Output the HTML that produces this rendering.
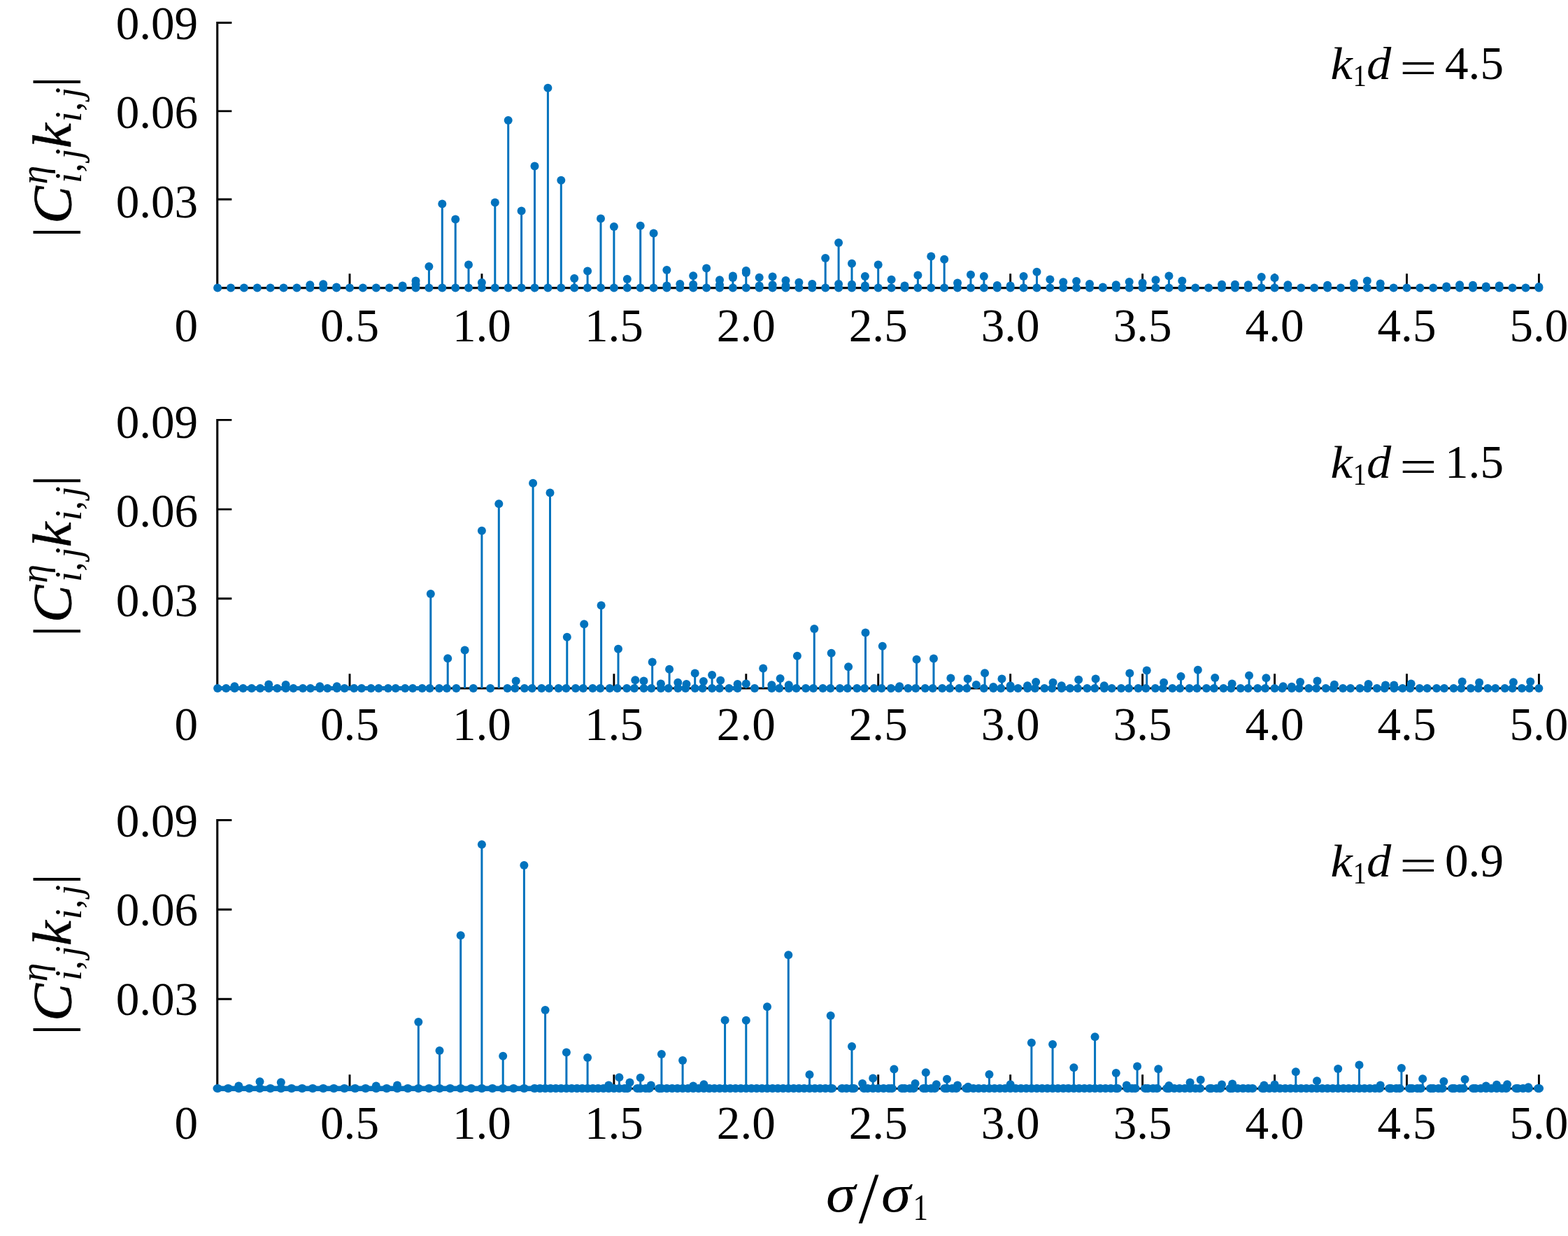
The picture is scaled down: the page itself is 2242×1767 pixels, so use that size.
<!DOCTYPE html>
<html lang="en">
<head>
<meta charset="utf-8">
<title>Interaction amplitude spectra</title>
<style>
html,body{margin:0;padding:0;background:#fff;}
body{width:2242px;height:1767px;overflow:hidden;}
svg{display:block;}
text{font-family:"Liberation Serif","DejaVu Serif",serif;fill:#000;}
.t{font-size:67.2px;}
.it{font-style:italic;}
</style>
</head>
<body>
<svg width="2242" height="1767" viewBox="0 0 2242 1767">
<rect x="0" y="0" width="2242" height="1767" fill="#fff"/>
<g id="panel1">
<path d="M310.75 31V411.65H2200.42" fill="none" stroke="#000" stroke-width="3.1" stroke-linejoin="miter"/>
<path d="M310.75 285h20.6M310.75 158.9h20.6M310.75 32.45h20.6M500 411.65V391.3M688.94 411.65V391.3M1444.68 411.65V391.3M1633.62 411.65V391.3M1822.55 411.65V391.3M2011.48 411.65V391.3M2200.42 411.65V391.3" fill="none" stroke="#000" stroke-width="2.9"/>
<path d="M443.3 411.6V407.2M462.2 411.6V406.3M481.1 411.6V410.6M575.6 411.6V408.4M594.5 411.6V401.4M594.5 411.6V406.6M613.4 411.6V380.9M632.3 411.6V291.4M651.2 411.6V313.5M670 411.6V378.4M688.9 411.6V404M707.8 411.6V289.5M726.7 411.6V171.9M745.6 411.6V301.5M764.5 411.6V237.4M783.4 411.6V125.8M802.3 411.6V257.8M821.2 411.6V398M840.1 411.6V387.4M859 411.6V312.6M877.9 411.6V323.9M896.8 411.6V398.9M915.7 411.6V322.8M934.6 411.6V333.6M953.4 411.6V386M953.4 411.6V408.6M972.3 411.6V406.1M991.2 411.6V394.3M991.2 411.6V406.8M1010.1 411.6V383.5M1029 411.6V400.3M1029 411.6V407.2M1047.9 411.6V394.5M1047.9 411.6V397.1M1066.8 411.6V387.1M1066.8 411.6V389.9M1085.7 411.6V396.8M1085.7 411.6V408.4M1104.6 411.6V395.4M1104.6 411.6V407.2M1123.5 411.6V401M1123.5 411.6V408.4M1142.4 411.6V403.8M1161.3 411.6V406.1M1180.2 411.6V368.9M1199.1 411.6V347M1199.1 411.6V406.1M1218 411.6V376.8M1218 411.6V406.8M1236.9 411.6V395M1236.9 411.6V408.6M1255.7 411.6V378.4M1274.6 411.6V399.8M1293.5 411.6V408.6M1312.4 411.6V393.6M1331.3 411.6V366.4M1350.2 411.6V370.8M1369.1 411.6V404.4M1388 411.6V392.8M1406.9 411.6V395M1425.8 411.6V407.9M1444.7 411.6V408.6M1463.6 411.6V395M1482.5 411.6V388.8M1501.4 411.6V399.6M1520.3 411.6V403.3M1539.1 411.6V401.9M1558 411.6V406.1M1576.9 411.6V410.6M1595.8 411.6V407.2M1614.7 411.6V403.1M1633.6 411.6V404.4M1652.5 411.6V400.3M1671.4 411.6V394.5M1690.3 411.6V401.4M1747 411.6V406.8M1765.9 411.6V406.8M1784.8 411.6V407.2M1803.7 411.6V395.9M1822.5 411.6V397.3M1841.4 411.6V407.2M1898.1 411.6V407.8M1935.9 411.6V404.9M1954.8 411.6V401.4M1973.7 411.6V405.6M2068.2 411.6V409.6M2087.1 411.6V407.2M2106 411.6V407.8M2124.8 411.6V409.6M2143.7 411.6V408.6M2200.4 411.6V410.1" fill="none" stroke="#0072BD" stroke-width="3.0"/>
<g fill="#0072BD">
<circle cx="311.1" cy="411.6" r="6.0"/><circle cx="330" cy="411.6" r="6.0"/><circle cx="348.9" cy="411.6" r="6.0"/><circle cx="367.8" cy="411.6" r="6.0"/><circle cx="386.6" cy="411.6" r="6.0"/><circle cx="405.5" cy="411.6" r="6.0"/>
<circle cx="424.4" cy="411.6" r="6.0"/><circle cx="443.3" cy="411.6" r="6.0"/><circle cx="443.3" cy="407.2" r="6.0"/><circle cx="462.2" cy="411.6" r="6.0"/><circle cx="462.2" cy="406.3" r="6.0"/><circle cx="481.1" cy="411.6" r="6.0"/>
<circle cx="481.1" cy="410.6" r="6.0"/><circle cx="500" cy="411.6" r="6.0"/><circle cx="518.9" cy="411.6" r="6.0"/><circle cx="537.8" cy="411.6" r="6.0"/><circle cx="556.7" cy="411.6" r="6.0"/><circle cx="575.6" cy="411.6" r="6.0"/>
<circle cx="575.6" cy="408.4" r="6.0"/><circle cx="594.5" cy="411.6" r="6.0"/><circle cx="594.5" cy="401.4" r="6.0"/><circle cx="594.5" cy="406.6" r="6.0"/><circle cx="613.4" cy="411.6" r="6.0"/><circle cx="613.4" cy="380.9" r="6.0"/>
<circle cx="632.3" cy="411.6" r="6.0"/><circle cx="632.3" cy="291.4" r="6.0"/><circle cx="651.2" cy="411.6" r="6.0"/><circle cx="651.2" cy="313.5" r="6.0"/><circle cx="670" cy="411.6" r="6.0"/><circle cx="670" cy="378.4" r="6.0"/>
<circle cx="688.9" cy="411.6" r="6.0"/><circle cx="688.9" cy="404" r="6.0"/><circle cx="707.8" cy="411.6" r="6.0"/><circle cx="707.8" cy="289.5" r="6.0"/><circle cx="726.7" cy="411.6" r="6.0"/><circle cx="726.7" cy="171.9" r="6.0"/>
<circle cx="745.6" cy="411.6" r="6.0"/><circle cx="745.6" cy="301.5" r="6.0"/><circle cx="764.5" cy="411.6" r="6.0"/><circle cx="764.5" cy="237.4" r="6.0"/><circle cx="783.4" cy="411.6" r="6.0"/><circle cx="783.4" cy="125.8" r="6.0"/>
<circle cx="802.3" cy="411.6" r="6.0"/><circle cx="802.3" cy="257.8" r="6.0"/><circle cx="821.2" cy="411.6" r="6.0"/><circle cx="821.2" cy="398" r="6.0"/><circle cx="840.1" cy="411.6" r="6.0"/><circle cx="840.1" cy="387.4" r="6.0"/>
<circle cx="859" cy="411.6" r="6.0"/><circle cx="859" cy="312.6" r="6.0"/><circle cx="877.9" cy="411.6" r="6.0"/><circle cx="877.9" cy="323.9" r="6.0"/><circle cx="896.8" cy="411.6" r="6.0"/><circle cx="896.8" cy="398.9" r="6.0"/>
<circle cx="915.7" cy="411.6" r="6.0"/><circle cx="915.7" cy="322.8" r="6.0"/><circle cx="934.6" cy="411.6" r="6.0"/><circle cx="934.6" cy="333.6" r="6.0"/><circle cx="953.4" cy="411.6" r="6.0"/><circle cx="953.4" cy="386" r="6.0"/>
<circle cx="953.4" cy="408.6" r="6.0"/><circle cx="972.3" cy="411.6" r="6.0"/><circle cx="972.3" cy="406.1" r="6.0"/><circle cx="991.2" cy="411.6" r="6.0"/><circle cx="991.2" cy="394.3" r="6.0"/><circle cx="991.2" cy="406.8" r="6.0"/>
<circle cx="1010.1" cy="411.6" r="6.0"/><circle cx="1010.1" cy="383.5" r="6.0"/><circle cx="1029" cy="411.6" r="6.0"/><circle cx="1029" cy="400.3" r="6.0"/><circle cx="1029" cy="407.2" r="6.0"/><circle cx="1047.9" cy="411.6" r="6.0"/>
<circle cx="1047.9" cy="394.5" r="6.0"/><circle cx="1047.9" cy="397.1" r="6.0"/><circle cx="1066.8" cy="411.6" r="6.0"/><circle cx="1066.8" cy="387.1" r="6.0"/><circle cx="1066.8" cy="389.9" r="6.0"/><circle cx="1085.7" cy="411.6" r="6.0"/>
<circle cx="1085.7" cy="396.8" r="6.0"/><circle cx="1085.7" cy="408.4" r="6.0"/><circle cx="1104.6" cy="411.6" r="6.0"/><circle cx="1104.6" cy="395.4" r="6.0"/><circle cx="1104.6" cy="407.2" r="6.0"/><circle cx="1123.5" cy="411.6" r="6.0"/>
<circle cx="1123.5" cy="401" r="6.0"/><circle cx="1123.5" cy="408.4" r="6.0"/><circle cx="1142.4" cy="411.6" r="6.0"/><circle cx="1142.4" cy="403.8" r="6.0"/><circle cx="1161.3" cy="411.6" r="6.0"/><circle cx="1161.3" cy="406.1" r="6.0"/>
<circle cx="1180.2" cy="411.6" r="6.0"/><circle cx="1180.2" cy="368.9" r="6.0"/><circle cx="1199.1" cy="411.6" r="6.0"/><circle cx="1199.1" cy="347" r="6.0"/><circle cx="1199.1" cy="406.1" r="6.0"/><circle cx="1218" cy="411.6" r="6.0"/>
<circle cx="1218" cy="376.8" r="6.0"/><circle cx="1218" cy="406.8" r="6.0"/><circle cx="1236.9" cy="411.6" r="6.0"/><circle cx="1236.9" cy="395" r="6.0"/><circle cx="1236.9" cy="408.6" r="6.0"/><circle cx="1255.7" cy="411.6" r="6.0"/>
<circle cx="1255.7" cy="378.4" r="6.0"/><circle cx="1274.6" cy="411.6" r="6.0"/><circle cx="1274.6" cy="399.8" r="6.0"/><circle cx="1293.5" cy="411.6" r="6.0"/><circle cx="1293.5" cy="408.6" r="6.0"/><circle cx="1312.4" cy="411.6" r="6.0"/>
<circle cx="1312.4" cy="393.6" r="6.0"/><circle cx="1331.3" cy="411.6" r="6.0"/><circle cx="1331.3" cy="366.4" r="6.0"/><circle cx="1350.2" cy="411.6" r="6.0"/><circle cx="1350.2" cy="370.8" r="6.0"/><circle cx="1369.1" cy="411.6" r="6.0"/>
<circle cx="1369.1" cy="404.4" r="6.0"/><circle cx="1388" cy="411.6" r="6.0"/><circle cx="1388" cy="392.8" r="6.0"/><circle cx="1406.9" cy="411.6" r="6.0"/><circle cx="1406.9" cy="395" r="6.0"/><circle cx="1425.8" cy="411.6" r="6.0"/>
<circle cx="1425.8" cy="407.9" r="6.0"/><circle cx="1444.7" cy="411.6" r="6.0"/><circle cx="1444.7" cy="408.6" r="6.0"/><circle cx="1463.6" cy="411.6" r="6.0"/><circle cx="1463.6" cy="395" r="6.0"/><circle cx="1482.5" cy="411.6" r="6.0"/>
<circle cx="1482.5" cy="388.8" r="6.0"/><circle cx="1501.4" cy="411.6" r="6.0"/><circle cx="1501.4" cy="399.6" r="6.0"/><circle cx="1520.3" cy="411.6" r="6.0"/><circle cx="1520.3" cy="403.3" r="6.0"/><circle cx="1539.1" cy="411.6" r="6.0"/>
<circle cx="1539.1" cy="401.9" r="6.0"/><circle cx="1558" cy="411.6" r="6.0"/><circle cx="1558" cy="406.1" r="6.0"/><circle cx="1576.9" cy="411.6" r="6.0"/><circle cx="1576.9" cy="410.6" r="6.0"/><circle cx="1595.8" cy="411.6" r="6.0"/>
<circle cx="1595.8" cy="407.2" r="6.0"/><circle cx="1614.7" cy="411.6" r="6.0"/><circle cx="1614.7" cy="403.1" r="6.0"/><circle cx="1633.6" cy="411.6" r="6.0"/><circle cx="1633.6" cy="404.4" r="6.0"/><circle cx="1652.5" cy="411.6" r="6.0"/>
<circle cx="1652.5" cy="400.3" r="6.0"/><circle cx="1671.4" cy="411.6" r="6.0"/><circle cx="1671.4" cy="394.5" r="6.0"/><circle cx="1690.3" cy="411.6" r="6.0"/><circle cx="1690.3" cy="401.4" r="6.0"/><circle cx="1709.2" cy="411.6" r="6.0"/>
<circle cx="1728.1" cy="411.6" r="6.0"/><circle cx="1747" cy="411.6" r="6.0"/><circle cx="1747" cy="406.8" r="6.0"/><circle cx="1765.9" cy="411.6" r="6.0"/><circle cx="1765.9" cy="406.8" r="6.0"/><circle cx="1784.8" cy="411.6" r="6.0"/>
<circle cx="1784.8" cy="407.2" r="6.0"/><circle cx="1803.7" cy="411.6" r="6.0"/><circle cx="1803.7" cy="395.9" r="6.0"/><circle cx="1822.5" cy="411.6" r="6.0"/><circle cx="1822.5" cy="397.3" r="6.0"/><circle cx="1841.4" cy="411.6" r="6.0"/>
<circle cx="1841.4" cy="407.2" r="6.0"/><circle cx="1860.3" cy="411.6" r="6.0"/><circle cx="1879.2" cy="411.6" r="6.0"/><circle cx="1898.1" cy="411.6" r="6.0"/><circle cx="1898.1" cy="407.8" r="6.0"/><circle cx="1917" cy="411.6" r="6.0"/>
<circle cx="1935.9" cy="411.6" r="6.0"/><circle cx="1935.9" cy="404.9" r="6.0"/><circle cx="1954.8" cy="411.6" r="6.0"/><circle cx="1954.8" cy="401.4" r="6.0"/><circle cx="1973.7" cy="411.6" r="6.0"/><circle cx="1973.7" cy="405.6" r="6.0"/>
<circle cx="1992.6" cy="411.6" r="6.0"/><circle cx="2011.5" cy="411.6" r="6.0"/><circle cx="2030.4" cy="411.6" r="6.0"/><circle cx="2049.3" cy="411.6" r="6.0"/><circle cx="2068.2" cy="411.6" r="6.0"/><circle cx="2068.2" cy="409.6" r="6.0"/>
<circle cx="2087.1" cy="411.6" r="6.0"/><circle cx="2087.1" cy="407.2" r="6.0"/><circle cx="2106" cy="411.6" r="6.0"/><circle cx="2106" cy="407.8" r="6.0"/><circle cx="2124.8" cy="411.6" r="6.0"/><circle cx="2124.8" cy="409.6" r="6.0"/>
<circle cx="2143.7" cy="411.6" r="6.0"/><circle cx="2143.7" cy="408.6" r="6.0"/><circle cx="2162.6" cy="411.6" r="6.0"/><circle cx="2181.5" cy="411.6" r="6.0"/><circle cx="2200.4" cy="411.6" r="6.0"/><circle cx="2200.4" cy="410.1" r="6.0"/>
</g>
</g>
<g id="panel2">
<path d="M310.75 598.95V984H2200.42" fill="none" stroke="#000" stroke-width="3.1" stroke-linejoin="miter"/>
<path d="M310.75 855.7h20.6M310.75 728.1h20.6M310.75 600.4h20.6M500 984V963.2M877.88 984V963.2M1066.81 984V963.2M1255.74 984V963.2M1444.68 984V963.2M1633.62 984V963.2M1822.55 984V963.2M2011.48 984V963.2M2200.42 984V963.2" fill="none" stroke="#000" stroke-width="2.9"/>
<path d="M335.4 984V981.3M384.2 984V978.5M408.6 984V979.1M457.3 984V981.3M481.7 984V981.3M615.8 984V849M640.2 984V941.3M664.6 984V929.5M688.9 984V758.8M713.3 984V720.3M737.7 984V973.4M762.1 984V690.7M786.5 984V704.6M810.8 984V910.8M835.2 984V892.2M859.6 984V865.6M884 984V927.7M908.3 984V972.2M920.5 984V973.4M932.7 984V946.4M944.9 984V977.5M957.1 984V956.8M969.3 984V975.7M981.5 984V978M993.7 984V962.5M1005.9 984V974.1M1018.1 984V965.1M1030.2 984V972.7M1054.6 984V978M1066.8 984V977.5M1091.2 984V955.6M1103.4 984V979.3M1115.6 984V970.1M1127.8 984V979.3M1139.9 984V937.8M1164.3 984V898.9M1188.7 984V933.7M1213.1 984V953.3M1237.5 984V904.6M1261.8 984V923.8M1286.2 984V981.3M1310.6 984V942.7M1335 984V941.5M1359.4 984V969.5M1383.7 984V970.6M1395.9 984V979.1M1408.1 984V962.3M1420.3 984V981.9M1432.5 984V970.6M1444.7 984V980.3M1469.1 984V980.3M1481.2 984V975M1505.6 984V975.7M1517.8 984V980.3M1542.2 984V971.8M1566.6 984V970.6M1578.8 984V980.3M1615.3 984V962.5M1639.7 984V958.4M1664.1 984V975.7M1688.5 984V967.1M1712.8 984V957.7M1737.2 984V969M1761.6 984V977.5M1786 984V965.8M1810.4 984V969.2M1834.7 984V981.3M1846.9 984V981.8M1859.1 984V975M1883.5 984V973.4M1907.9 984V978.7M1956.6 984V978M1981 984V979.6M1993.2 984V979.6M2017.6 984V977.5M2090.7 984V974.5M2115.1 984V975.7M2163.9 984V975.2M2188.2 984V974.5" fill="none" stroke="#0072BD" stroke-width="3.0"/>
<path d="M311.1 984H323.3M323.3 984H335.4M335.4 984H347.6M347.6 984H359.8M359.8 984H372M372 984H384.2M384.2 984H396.4M396.4 984H408.6M408.6 984H419.5M419.5 984H433M433 984H443.9M443.9 984H457.3M457.3 984H468.2M468.2 984H481.7M481.7 984H492.6M492.6 984H506.1M506.1 984H517M517 984H530.5M530.5 984H541.4M541.4 984H554.9M554.9 984H565.7M565.7 984H579.2M579.2 984H590.1M590.1 984H603.6M603.6 984H614.5M628 984H638.9M725.5 984H736.4M749.9 984H760.8M774.3 984H785.2M798.6 984H809.5M823 984H833.9M847.4 984H858.3M871.8 984H882.7M896.2 984H907M920.5 984H931.4M944.9 984H955.8M969.3 984H980.2M993.7 984H1004.6M1018.1 984H1028.9M1042.4 984H1054.6M1103.4 984H1114.3M1127.8 984H1138.6M1152.1 984H1163M1176.5 984H1187.4M1200.9 984H1211.8M1225.3 984H1236.2M1249.7 984H1260.5M1274 984H1284.9M1298.4 984H1309.3M1322.8 984H1333.7M1347.2 984H1358.1M1371.5 984H1382.4M1420.3 984H1431.2M1444.7 984H1455.6M1469.1 984H1479.9M1493.4 984H1504.3M1517.8 984H1530M1530 984H1540.9M1554.4 984H1565.3M1578.8 984H1589.7M1603.1 984H1614M1627.5 984H1638.4M1651.9 984H1662.8M1676.3 984H1687.2M1700.7 984H1711.5M1725 984H1735.9M1749.4 984H1760.3M1773.8 984H1784.7M1798.2 984H1809.1M1822.5 984H1833.4M1846.9 984H1857.8M1871.3 984H1882.2M1895.7 984H1906.6M1920.1 984H1931M1944.4 984H1955.3M1968.8 984H1979.7M1993.2 984H2005.4M2005.4 984H2016.3M2029.8 984H2040.7M2054.1 984H2065M2078.5 984H2089.4M2102.9 984H2113.8M2127.3 984H2138.2M2151.7 984H2162.6M2176 984H2186.9" fill="none" stroke="#0072BD" stroke-width="6"/>
<g fill="#0072BD">
<circle cx="311.1" cy="984" r="6.0"/><circle cx="323.3" cy="984" r="6.0"/><circle cx="335.4" cy="984" r="6.0"/><circle cx="335.4" cy="981.3" r="6.0"/><circle cx="347.6" cy="984" r="6.0"/><circle cx="359.8" cy="984" r="6.0"/>
<circle cx="372" cy="984" r="6.0"/><circle cx="384.2" cy="984" r="6.0"/><circle cx="384.2" cy="978.5" r="6.0"/><circle cx="396.4" cy="984" r="6.0"/><circle cx="408.6" cy="984" r="6.0"/><circle cx="408.6" cy="979.1" r="6.0"/>
<circle cx="419.5" cy="984" r="6.0"/><circle cx="433" cy="984" r="6.0"/><circle cx="443.9" cy="984" r="6.0"/><circle cx="457.3" cy="984" r="6.0"/><circle cx="457.3" cy="981.3" r="6.0"/><circle cx="468.2" cy="984" r="6.0"/>
<circle cx="481.7" cy="984" r="6.0"/><circle cx="481.7" cy="981.3" r="6.0"/><circle cx="492.6" cy="984" r="6.0"/><circle cx="506.1" cy="984" r="6.0"/><circle cx="517" cy="984" r="6.0"/><circle cx="530.5" cy="984" r="6.0"/>
<circle cx="541.4" cy="984" r="6.0"/><circle cx="554.9" cy="984" r="6.0"/><circle cx="565.7" cy="984" r="6.0"/><circle cx="579.2" cy="984" r="6.0"/><circle cx="590.1" cy="984" r="6.0"/><circle cx="603.6" cy="984" r="6.0"/>
<circle cx="614.5" cy="984" r="6.0"/><circle cx="615.8" cy="849" r="6.0"/><circle cx="628" cy="984" r="6.0"/><circle cx="638.9" cy="984" r="6.0"/><circle cx="640.2" cy="941.3" r="6.0"/><circle cx="652.4" cy="984" r="6.0"/>
<circle cx="664.6" cy="929.5" r="6.0"/><circle cx="676.8" cy="984" r="6.0"/><circle cx="688.9" cy="758.8" r="6.0"/><circle cx="701.1" cy="984" r="6.0"/><circle cx="713.3" cy="720.3" r="6.0"/><circle cx="725.5" cy="984" r="6.0"/>
<circle cx="736.4" cy="984" r="6.0"/><circle cx="737.7" cy="973.4" r="6.0"/><circle cx="749.9" cy="984" r="6.0"/><circle cx="760.8" cy="984" r="6.0"/><circle cx="762.1" cy="690.7" r="6.0"/><circle cx="774.3" cy="984" r="6.0"/>
<circle cx="785.2" cy="984" r="6.0"/><circle cx="786.5" cy="704.6" r="6.0"/><circle cx="798.6" cy="984" r="6.0"/><circle cx="809.5" cy="984" r="6.0"/><circle cx="810.8" cy="910.8" r="6.0"/><circle cx="823" cy="984" r="6.0"/>
<circle cx="833.9" cy="984" r="6.0"/><circle cx="835.2" cy="892.2" r="6.0"/><circle cx="847.4" cy="984" r="6.0"/><circle cx="858.3" cy="984" r="6.0"/><circle cx="859.6" cy="865.6" r="6.0"/><circle cx="871.8" cy="984" r="6.0"/>
<circle cx="882.7" cy="984" r="6.0"/><circle cx="884" cy="927.7" r="6.0"/><circle cx="896.2" cy="984" r="6.0"/><circle cx="907" cy="984" r="6.0"/><circle cx="908.3" cy="972.2" r="6.0"/><circle cx="920.5" cy="984" r="6.0"/>
<circle cx="920.5" cy="973.4" r="6.0"/><circle cx="931.4" cy="984" r="6.0"/><circle cx="932.7" cy="946.4" r="6.0"/><circle cx="944.9" cy="984" r="6.0"/><circle cx="944.9" cy="977.5" r="6.0"/><circle cx="955.8" cy="984" r="6.0"/>
<circle cx="957.1" cy="956.8" r="6.0"/><circle cx="969.3" cy="984" r="6.0"/><circle cx="969.3" cy="975.7" r="6.0"/><circle cx="980.2" cy="984" r="6.0"/><circle cx="981.5" cy="978" r="6.0"/><circle cx="993.7" cy="984" r="6.0"/>
<circle cx="993.7" cy="962.5" r="6.0"/><circle cx="1004.6" cy="984" r="6.0"/><circle cx="1005.9" cy="974.1" r="6.0"/><circle cx="1018.1" cy="984" r="6.0"/><circle cx="1018.1" cy="965.1" r="6.0"/><circle cx="1028.9" cy="984" r="6.0"/>
<circle cx="1030.2" cy="972.7" r="6.0"/><circle cx="1042.4" cy="984" r="6.0"/><circle cx="1054.6" cy="984" r="6.0"/><circle cx="1054.6" cy="978" r="6.0"/><circle cx="1066.8" cy="977.5" r="6.0"/><circle cx="1079" cy="984" r="6.0"/>
<circle cx="1091.2" cy="955.6" r="6.0"/><circle cx="1103.4" cy="984" r="6.0"/><circle cx="1103.4" cy="979.3" r="6.0"/><circle cx="1114.3" cy="984" r="6.0"/><circle cx="1115.6" cy="970.1" r="6.0"/><circle cx="1127.8" cy="984" r="6.0"/>
<circle cx="1127.8" cy="979.3" r="6.0"/><circle cx="1138.6" cy="984" r="6.0"/><circle cx="1139.9" cy="937.8" r="6.0"/><circle cx="1152.1" cy="984" r="6.0"/><circle cx="1163" cy="984" r="6.0"/><circle cx="1164.3" cy="898.9" r="6.0"/>
<circle cx="1176.5" cy="984" r="6.0"/><circle cx="1187.4" cy="984" r="6.0"/><circle cx="1188.7" cy="933.7" r="6.0"/><circle cx="1200.9" cy="984" r="6.0"/><circle cx="1211.8" cy="984" r="6.0"/><circle cx="1213.1" cy="953.3" r="6.0"/>
<circle cx="1225.3" cy="984" r="6.0"/><circle cx="1236.2" cy="984" r="6.0"/><circle cx="1237.5" cy="904.6" r="6.0"/><circle cx="1249.7" cy="984" r="6.0"/><circle cx="1260.5" cy="984" r="6.0"/><circle cx="1261.8" cy="923.8" r="6.0"/>
<circle cx="1274" cy="984" r="6.0"/><circle cx="1284.9" cy="984" r="6.0"/><circle cx="1286.2" cy="981.3" r="6.0"/><circle cx="1298.4" cy="984" r="6.0"/><circle cx="1309.3" cy="984" r="6.0"/><circle cx="1310.6" cy="942.7" r="6.0"/>
<circle cx="1322.8" cy="984" r="6.0"/><circle cx="1333.7" cy="984" r="6.0"/><circle cx="1335" cy="941.5" r="6.0"/><circle cx="1347.2" cy="984" r="6.0"/><circle cx="1358.1" cy="984" r="6.0"/><circle cx="1359.4" cy="969.5" r="6.0"/>
<circle cx="1371.5" cy="984" r="6.0"/><circle cx="1382.4" cy="984" r="6.0"/><circle cx="1383.7" cy="970.6" r="6.0"/><circle cx="1395.9" cy="979.1" r="6.0"/><circle cx="1406.8" cy="984" r="6.0"/><circle cx="1408.1" cy="962.3" r="6.0"/>
<circle cx="1420.3" cy="984" r="6.0"/><circle cx="1420.3" cy="981.9" r="6.0"/><circle cx="1431.2" cy="984" r="6.0"/><circle cx="1432.5" cy="970.6" r="6.0"/><circle cx="1444.7" cy="984" r="6.0"/><circle cx="1444.7" cy="980.3" r="6.0"/>
<circle cx="1455.6" cy="984" r="6.0"/><circle cx="1469.1" cy="984" r="6.0"/><circle cx="1469.1" cy="980.3" r="6.0"/><circle cx="1479.9" cy="984" r="6.0"/><circle cx="1481.2" cy="975" r="6.0"/><circle cx="1493.4" cy="984" r="6.0"/>
<circle cx="1504.3" cy="984" r="6.0"/><circle cx="1505.6" cy="975.7" r="6.0"/><circle cx="1517.8" cy="984" r="6.0"/><circle cx="1517.8" cy="980.3" r="6.0"/><circle cx="1530" cy="984" r="6.0"/><circle cx="1540.9" cy="984" r="6.0"/>
<circle cx="1542.2" cy="971.8" r="6.0"/><circle cx="1554.4" cy="984" r="6.0"/><circle cx="1565.3" cy="984" r="6.0"/><circle cx="1566.6" cy="970.6" r="6.0"/><circle cx="1578.8" cy="984" r="6.0"/><circle cx="1578.8" cy="980.3" r="6.0"/>
<circle cx="1589.7" cy="984" r="6.0"/><circle cx="1603.1" cy="984" r="6.0"/><circle cx="1614" cy="984" r="6.0"/><circle cx="1615.3" cy="962.5" r="6.0"/><circle cx="1627.5" cy="984" r="6.0"/><circle cx="1638.4" cy="984" r="6.0"/>
<circle cx="1639.7" cy="958.4" r="6.0"/><circle cx="1651.9" cy="984" r="6.0"/><circle cx="1662.8" cy="984" r="6.0"/><circle cx="1664.1" cy="975.7" r="6.0"/><circle cx="1676.3" cy="984" r="6.0"/><circle cx="1687.2" cy="984" r="6.0"/>
<circle cx="1688.5" cy="967.1" r="6.0"/><circle cx="1700.7" cy="984" r="6.0"/><circle cx="1711.5" cy="984" r="6.0"/><circle cx="1712.8" cy="957.7" r="6.0"/><circle cx="1725" cy="984" r="6.0"/><circle cx="1735.9" cy="984" r="6.0"/>
<circle cx="1737.2" cy="969" r="6.0"/><circle cx="1749.4" cy="984" r="6.0"/><circle cx="1760.3" cy="984" r="6.0"/><circle cx="1761.6" cy="977.5" r="6.0"/><circle cx="1773.8" cy="984" r="6.0"/><circle cx="1784.7" cy="984" r="6.0"/>
<circle cx="1786" cy="965.8" r="6.0"/><circle cx="1798.2" cy="984" r="6.0"/><circle cx="1809.1" cy="984" r="6.0"/><circle cx="1810.4" cy="969.2" r="6.0"/><circle cx="1822.5" cy="984" r="6.0"/><circle cx="1833.4" cy="984" r="6.0"/>
<circle cx="1834.7" cy="981.3" r="6.0"/><circle cx="1846.9" cy="984" r="6.0"/><circle cx="1846.9" cy="981.8" r="6.0"/><circle cx="1857.8" cy="984" r="6.0"/><circle cx="1859.1" cy="975" r="6.0"/><circle cx="1871.3" cy="984" r="6.0"/>
<circle cx="1882.2" cy="984" r="6.0"/><circle cx="1883.5" cy="973.4" r="6.0"/><circle cx="1895.7" cy="984" r="6.0"/><circle cx="1906.6" cy="984" r="6.0"/><circle cx="1907.9" cy="978.7" r="6.0"/><circle cx="1920.1" cy="984" r="6.0"/>
<circle cx="1931" cy="984" r="6.0"/><circle cx="1944.4" cy="984" r="6.0"/><circle cx="1955.3" cy="984" r="6.0"/><circle cx="1956.6" cy="978" r="6.0"/><circle cx="1968.8" cy="984" r="6.0"/><circle cx="1979.7" cy="984" r="6.0"/>
<circle cx="1981" cy="979.6" r="6.0"/><circle cx="1993.2" cy="984" r="6.0"/><circle cx="1993.2" cy="979.6" r="6.0"/><circle cx="2005.4" cy="984" r="6.0"/><circle cx="2016.3" cy="984" r="6.0"/><circle cx="2017.6" cy="977.5" r="6.0"/>
<circle cx="2029.8" cy="984" r="6.0"/><circle cx="2040.7" cy="984" r="6.0"/><circle cx="2054.1" cy="984" r="6.0"/><circle cx="2065" cy="984" r="6.0"/><circle cx="2078.5" cy="984" r="6.0"/><circle cx="2089.4" cy="984" r="6.0"/>
<circle cx="2090.7" cy="974.5" r="6.0"/><circle cx="2102.9" cy="984" r="6.0"/><circle cx="2113.8" cy="984" r="6.0"/><circle cx="2115.1" cy="975.7" r="6.0"/><circle cx="2127.3" cy="984" r="6.0"/><circle cx="2138.2" cy="984" r="6.0"/>
<circle cx="2151.7" cy="984" r="6.0"/><circle cx="2162.6" cy="984" r="6.0"/><circle cx="2163.9" cy="975.2" r="6.0"/><circle cx="2176" cy="984" r="6.0"/><circle cx="2186.9" cy="984" r="6.0"/><circle cx="2188.2" cy="974.5" r="6.0"/>
<circle cx="2200.4" cy="984" r="6.0"/>
</g>
</g>
<g id="panel3">
<path d="M310.75 1171.05V1556.3H2200.42" fill="none" stroke="#000" stroke-width="3.1" stroke-linejoin="miter"/>
<path d="M310.75 1428.3h20.6M310.75 1300.3h20.6M310.75 1172.5h20.6M500 1556.3V1536.3M877.88 1556.3V1536.3M1255.74 1556.3V1536.3M1444.68 1556.3V1536.3M1633.62 1556.3V1536.3M1822.55 1556.3V1536.3M2011.48 1556.3V1536.3M2200.42 1556.3V1536.3" fill="none" stroke="#000" stroke-width="2.9"/>
<path d="M341.3 1556.3V1552.6M371.5 1556.3V1546.3M401.8 1556.3V1547.3M537.8 1556.3V1552.6M568 1556.3V1551.4M598.3 1556.3V1461M628.5 1556.3V1502M658.7 1556.3V1337.3M688.9 1556.3V1207.3M719.2 1556.3V1509.7M749.4 1556.3V1237.1M779.6 1556.3V1443.9M809.9 1556.3V1504.6M840.1 1556.3V1512M870.3 1556.3V1551.4M885.4 1556.3V1540.3M900.5 1556.3V1547.5M915.7 1556.3V1540.8M930.8 1556.3V1551.4M945.9 1556.3V1506.9M976.1 1556.3V1516.1M991.2 1556.3V1552.6M1006.4 1556.3V1550.3M1036.6 1556.3V1458.4M1066.8 1556.3V1458.7M1097 1556.3V1439.3M1127.3 1556.3V1365.2M1157.5 1556.3V1536.2M1187.7 1556.3V1452M1218 1556.3V1496M1233.1 1556.3V1549.1M1248.2 1556.3V1541.5M1278.4 1556.3V1528.6M1308.6 1556.3V1549.1M1323.8 1556.3V1533.2M1338.9 1556.3V1550.3M1354 1556.3V1542.7M1369.1 1556.3V1551.5M1384.2 1556.3V1553.7M1414.5 1556.3V1536M1444.7 1556.3V1550.3M1474.9 1556.3V1490.7M1505.1 1556.3V1493M1535.4 1556.3V1526.3M1565.6 1556.3V1482.2M1595.8 1556.3V1534.1M1610.9 1556.3V1551.5M1626.1 1556.3V1524.4M1656.3 1556.3V1528.3M1671.4 1556.3V1551.9M1701.6 1556.3V1547.5M1716.7 1556.3V1543.8M1747 1556.3V1550.5M1762.1 1556.3V1549.5M1807.4 1556.3V1551.5M1822.5 1556.3V1550.5M1852.8 1556.3V1532.3M1883 1556.3V1545.2M1913.2 1556.3V1527.9M1943.5 1556.3V1522.6M1973.7 1556.3V1551.5M2003.9 1556.3V1527M2034.2 1556.3V1542.2M2064.4 1556.3V1546.1M2094.6 1556.3V1543.1M2124.8 1556.3V1552.5M2140 1556.3V1550.7M2155.1 1556.3V1550.3M2185.3 1556.3V1554.3" fill="none" stroke="#0072BD" stroke-width="3.0"/>
<path d="M314.1 1556.3H900M908.4 1556.3H931.2M939.6 1556.3H1192.6M1201 1556.3H1224M1232.4 1556.3H1278.3M1286.7 1556.3H1309.2M1317.6 1556.3H1339.5M1347.9 1556.3H1370.3M1378.7 1556.3H1600.7M1609.1 1556.3H1626.1M1634.5 1556.3H1657.3M1665.7 1556.3H1718.6M1727 1556.3H1747.7M1756.1 1556.3H1793.8M1802.2 1556.3H1975.4M1983.8 1556.3H2004.2M2012.6 1556.3H2034.2M2042.6 1556.3H2065.1M2073.5 1556.3H2095.1M2103.5 1556.3H2156.6M2165 1556.3H2188.3M2196.7 1556.3H2197.4" fill="none" stroke="#0072BD" stroke-width="7.5"/>
<g fill="#0072BD">
<ellipse cx="311.1" cy="1555.9" rx="6.7" ry="6.0"/><ellipse cx="326.2" cy="1555.9" rx="6.7" ry="6.0"/><ellipse cx="341.3" cy="1555.9" rx="6.7" ry="6.0"/><circle cx="341.3" cy="1552.6" r="6.0"/><ellipse cx="356.4" cy="1555.9" rx="6.7" ry="6.0"/><ellipse cx="371.5" cy="1555.9" rx="6.7" ry="6.0"/>
<circle cx="371.5" cy="1546.3" r="6.0"/><ellipse cx="386.6" cy="1555.9" rx="6.7" ry="6.0"/><ellipse cx="401.8" cy="1555.9" rx="6.7" ry="6.0"/><circle cx="401.8" cy="1547.3" r="6.0"/><ellipse cx="416.9" cy="1555.9" rx="6.7" ry="6.0"/><ellipse cx="432" cy="1555.9" rx="6.7" ry="6.0"/>
<ellipse cx="447.1" cy="1555.9" rx="6.7" ry="6.0"/><ellipse cx="462.2" cy="1555.9" rx="6.7" ry="6.0"/><ellipse cx="477.3" cy="1555.9" rx="6.7" ry="6.0"/><ellipse cx="492.4" cy="1555.9" rx="6.7" ry="6.0"/><ellipse cx="507.6" cy="1555.9" rx="6.7" ry="6.0"/><ellipse cx="522.7" cy="1555.9" rx="6.7" ry="6.0"/>
<ellipse cx="537.8" cy="1555.9" rx="6.7" ry="6.0"/><circle cx="537.8" cy="1552.6" r="6.0"/><ellipse cx="552.9" cy="1555.9" rx="6.7" ry="6.0"/><ellipse cx="568" cy="1555.9" rx="6.7" ry="6.0"/><circle cx="568" cy="1551.4" r="6.0"/><ellipse cx="583.1" cy="1555.9" rx="6.7" ry="6.0"/>
<ellipse cx="598.3" cy="1555.9" rx="6.7" ry="6.0"/><circle cx="598.3" cy="1461" r="6.0"/><ellipse cx="613.4" cy="1555.9" rx="6.7" ry="6.0"/><ellipse cx="628.5" cy="1555.9" rx="6.7" ry="6.0"/><circle cx="628.5" cy="1502" r="6.0"/><ellipse cx="643.6" cy="1555.9" rx="6.7" ry="6.0"/>
<ellipse cx="658.7" cy="1555.9" rx="6.7" ry="6.0"/><circle cx="658.7" cy="1337.3" r="6.0"/><ellipse cx="673.8" cy="1555.9" rx="6.7" ry="6.0"/><ellipse cx="688.9" cy="1555.9" rx="6.7" ry="6.0"/><circle cx="688.9" cy="1207.3" r="6.0"/><ellipse cx="704.1" cy="1555.9" rx="6.7" ry="6.0"/>
<ellipse cx="719.2" cy="1555.9" rx="6.7" ry="6.0"/><circle cx="719.2" cy="1509.7" r="6.0"/><ellipse cx="734.3" cy="1555.9" rx="6.7" ry="6.0"/><ellipse cx="749.4" cy="1555.9" rx="6.7" ry="6.0"/><circle cx="749.4" cy="1237.1" r="6.0"/><ellipse cx="764.5" cy="1555.9" rx="6.7" ry="6.0"/>
<ellipse cx="772.1" cy="1555.9" rx="6.7" ry="6.0"/><ellipse cx="779.6" cy="1555.9" rx="6.7" ry="6.0"/><ellipse cx="787.2" cy="1555.9" rx="6.7" ry="6.0"/><circle cx="779.6" cy="1443.9" r="6.0"/><ellipse cx="794.7" cy="1555.9" rx="6.7" ry="6.0"/><ellipse cx="802.3" cy="1555.9" rx="6.7" ry="6.0"/>
<ellipse cx="809.9" cy="1555.9" rx="6.7" ry="6.0"/><ellipse cx="817.4" cy="1555.9" rx="6.7" ry="6.0"/><circle cx="809.9" cy="1504.6" r="6.0"/><ellipse cx="825" cy="1555.9" rx="6.7" ry="6.0"/><ellipse cx="832.5" cy="1555.9" rx="6.7" ry="6.0"/><ellipse cx="840.1" cy="1555.9" rx="6.7" ry="6.0"/>
<ellipse cx="847.6" cy="1555.9" rx="6.7" ry="6.0"/><circle cx="840.1" cy="1512" r="6.0"/><ellipse cx="855.2" cy="1555.9" rx="6.7" ry="6.0"/><ellipse cx="862.8" cy="1555.9" rx="6.7" ry="6.0"/><ellipse cx="870.3" cy="1555.9" rx="6.7" ry="6.0"/><ellipse cx="877.9" cy="1555.9" rx="6.7" ry="6.0"/>
<circle cx="870.3" cy="1551.4" r="6.0"/><ellipse cx="885.4" cy="1555.9" rx="6.7" ry="6.0"/><ellipse cx="893" cy="1555.9" rx="6.7" ry="6.0"/><circle cx="885.4" cy="1540.3" r="6.0"/><ellipse cx="897" cy="1555.9" rx="6.7" ry="6.0"/><ellipse cx="911.4" cy="1555.9" rx="6.7" ry="6.0"/>
<circle cx="900.5" cy="1547.5" r="6.0"/><ellipse cx="915.7" cy="1555.9" rx="6.7" ry="6.0"/><ellipse cx="923.2" cy="1555.9" rx="6.7" ry="6.0"/><circle cx="915.7" cy="1540.8" r="6.0"/><ellipse cx="928.2" cy="1555.9" rx="6.7" ry="6.0"/><ellipse cx="942.6" cy="1555.9" rx="6.7" ry="6.0"/>
<circle cx="930.8" cy="1551.4" r="6.0"/><ellipse cx="945.9" cy="1555.9" rx="6.7" ry="6.0"/><ellipse cx="953.4" cy="1555.9" rx="6.7" ry="6.0"/><circle cx="945.9" cy="1506.9" r="6.0"/><ellipse cx="961" cy="1555.9" rx="6.7" ry="6.0"/><ellipse cx="968.6" cy="1555.9" rx="6.7" ry="6.0"/>
<ellipse cx="976.1" cy="1555.9" rx="6.7" ry="6.0"/><ellipse cx="983.7" cy="1555.9" rx="6.7" ry="6.0"/><circle cx="976.1" cy="1516.1" r="6.0"/><ellipse cx="991.2" cy="1555.9" rx="6.7" ry="6.0"/><ellipse cx="998.8" cy="1555.9" rx="6.7" ry="6.0"/><circle cx="991.2" cy="1552.6" r="6.0"/>
<ellipse cx="1006.4" cy="1555.9" rx="6.7" ry="6.0"/><ellipse cx="1013.9" cy="1555.9" rx="6.7" ry="6.0"/><circle cx="1006.4" cy="1550.3" r="6.0"/><ellipse cx="1021.5" cy="1555.9" rx="6.7" ry="6.0"/><ellipse cx="1029" cy="1555.9" rx="6.7" ry="6.0"/><ellipse cx="1036.6" cy="1555.9" rx="6.7" ry="6.0"/>
<ellipse cx="1044.1" cy="1555.9" rx="6.7" ry="6.0"/><circle cx="1036.6" cy="1458.4" r="6.0"/><ellipse cx="1051.7" cy="1555.9" rx="6.7" ry="6.0"/><ellipse cx="1059.3" cy="1555.9" rx="6.7" ry="6.0"/><ellipse cx="1066.8" cy="1555.9" rx="6.7" ry="6.0"/><ellipse cx="1074.4" cy="1555.9" rx="6.7" ry="6.0"/>
<circle cx="1066.8" cy="1458.7" r="6.0"/><ellipse cx="1081.9" cy="1555.9" rx="6.7" ry="6.0"/><ellipse cx="1089.5" cy="1555.9" rx="6.7" ry="6.0"/><ellipse cx="1097" cy="1555.9" rx="6.7" ry="6.0"/><ellipse cx="1104.6" cy="1555.9" rx="6.7" ry="6.0"/><circle cx="1097" cy="1439.3" r="6.0"/>
<ellipse cx="1112.2" cy="1555.9" rx="6.7" ry="6.0"/><ellipse cx="1119.7" cy="1555.9" rx="6.7" ry="6.0"/><ellipse cx="1127.3" cy="1555.9" rx="6.7" ry="6.0"/><ellipse cx="1134.8" cy="1555.9" rx="6.7" ry="6.0"/><circle cx="1127.3" cy="1365.2" r="6.0"/><ellipse cx="1142.4" cy="1555.9" rx="6.7" ry="6.0"/>
<ellipse cx="1149.9" cy="1555.9" rx="6.7" ry="6.0"/><ellipse cx="1157.5" cy="1555.9" rx="6.7" ry="6.0"/><ellipse cx="1165.1" cy="1555.9" rx="6.7" ry="6.0"/><circle cx="1157.5" cy="1536.2" r="6.0"/><ellipse cx="1172.6" cy="1555.9" rx="6.7" ry="6.0"/><ellipse cx="1180.2" cy="1555.9" rx="6.7" ry="6.0"/>
<ellipse cx="1187.7" cy="1555.9" rx="6.7" ry="6.0"/><ellipse cx="1189.6" cy="1555.9" rx="6.7" ry="6.0"/><circle cx="1187.7" cy="1452" r="6.0"/><ellipse cx="1204" cy="1555.9" rx="6.7" ry="6.0"/><ellipse cx="1210.4" cy="1555.9" rx="6.7" ry="6.0"/><ellipse cx="1218" cy="1555.9" rx="6.7" ry="6.0"/>
<ellipse cx="1221" cy="1555.9" rx="6.7" ry="6.0"/><circle cx="1218" cy="1496" r="6.0"/><ellipse cx="1235.4" cy="1555.9" rx="6.7" ry="6.0"/><ellipse cx="1240.6" cy="1555.9" rx="6.7" ry="6.0"/><circle cx="1233.1" cy="1549.1" r="6.0"/><ellipse cx="1248.2" cy="1555.9" rx="6.7" ry="6.0"/>
<ellipse cx="1255.7" cy="1555.9" rx="6.7" ry="6.0"/><circle cx="1248.2" cy="1541.5" r="6.0"/><ellipse cx="1263.3" cy="1555.9" rx="6.7" ry="6.0"/><ellipse cx="1270.9" cy="1555.9" rx="6.7" ry="6.0"/><ellipse cx="1275.3" cy="1555.9" rx="6.7" ry="6.0"/><ellipse cx="1289.7" cy="1555.9" rx="6.7" ry="6.0"/>
<circle cx="1278.4" cy="1528.6" r="6.0"/><ellipse cx="1293.5" cy="1555.9" rx="6.7" ry="6.0"/><ellipse cx="1301.1" cy="1555.9" rx="6.7" ry="6.0"/><ellipse cx="1306.2" cy="1555.9" rx="6.7" ry="6.0"/><ellipse cx="1320.6" cy="1555.9" rx="6.7" ry="6.0"/><circle cx="1308.6" cy="1549.1" r="6.0"/>
<ellipse cx="1323.8" cy="1555.9" rx="6.7" ry="6.0"/><ellipse cx="1331.3" cy="1555.9" rx="6.7" ry="6.0"/><circle cx="1323.8" cy="1533.2" r="6.0"/><ellipse cx="1336.5" cy="1555.9" rx="6.7" ry="6.0"/><ellipse cx="1350.9" cy="1555.9" rx="6.7" ry="6.0"/><circle cx="1338.9" cy="1550.3" r="6.0"/>
<ellipse cx="1354" cy="1555.9" rx="6.7" ry="6.0"/><ellipse cx="1361.5" cy="1555.9" rx="6.7" ry="6.0"/><circle cx="1354" cy="1542.7" r="6.0"/><ellipse cx="1367.3" cy="1555.9" rx="6.7" ry="6.0"/><ellipse cx="1381.7" cy="1555.9" rx="6.7" ry="6.0"/><circle cx="1369.1" cy="1551.5" r="6.0"/>
<ellipse cx="1384.2" cy="1555.9" rx="6.7" ry="6.0"/><ellipse cx="1391.8" cy="1555.9" rx="6.7" ry="6.0"/><circle cx="1384.2" cy="1553.7" r="6.0"/><ellipse cx="1399.3" cy="1555.9" rx="6.7" ry="6.0"/><ellipse cx="1406.9" cy="1555.9" rx="6.7" ry="6.0"/><ellipse cx="1414.5" cy="1555.9" rx="6.7" ry="6.0"/>
<ellipse cx="1422" cy="1555.9" rx="6.7" ry="6.0"/><circle cx="1414.5" cy="1536" r="6.0"/><ellipse cx="1429.6" cy="1555.9" rx="6.7" ry="6.0"/><ellipse cx="1437.1" cy="1555.9" rx="6.7" ry="6.0"/><ellipse cx="1444.7" cy="1555.9" rx="6.7" ry="6.0"/><ellipse cx="1452.2" cy="1555.9" rx="6.7" ry="6.0"/>
<circle cx="1444.7" cy="1550.3" r="6.0"/><ellipse cx="1459.8" cy="1555.9" rx="6.7" ry="6.0"/><ellipse cx="1467.4" cy="1555.9" rx="6.7" ry="6.0"/><ellipse cx="1474.9" cy="1555.9" rx="6.7" ry="6.0"/><ellipse cx="1482.5" cy="1555.9" rx="6.7" ry="6.0"/><circle cx="1474.9" cy="1490.7" r="6.0"/>
<ellipse cx="1490" cy="1555.9" rx="6.7" ry="6.0"/><ellipse cx="1497.6" cy="1555.9" rx="6.7" ry="6.0"/><ellipse cx="1505.1" cy="1555.9" rx="6.7" ry="6.0"/><ellipse cx="1512.7" cy="1555.9" rx="6.7" ry="6.0"/><circle cx="1505.1" cy="1493" r="6.0"/><ellipse cx="1520.3" cy="1555.9" rx="6.7" ry="6.0"/>
<ellipse cx="1527.8" cy="1555.9" rx="6.7" ry="6.0"/><ellipse cx="1535.4" cy="1555.9" rx="6.7" ry="6.0"/><ellipse cx="1542.9" cy="1555.9" rx="6.7" ry="6.0"/><circle cx="1535.4" cy="1526.3" r="6.0"/><ellipse cx="1550.5" cy="1555.9" rx="6.7" ry="6.0"/><ellipse cx="1558" cy="1555.9" rx="6.7" ry="6.0"/>
<ellipse cx="1565.6" cy="1555.9" rx="6.7" ry="6.0"/><ellipse cx="1573.2" cy="1555.9" rx="6.7" ry="6.0"/><circle cx="1565.6" cy="1482.2" r="6.0"/><ellipse cx="1580.7" cy="1555.9" rx="6.7" ry="6.0"/><ellipse cx="1588.3" cy="1555.9" rx="6.7" ry="6.0"/><ellipse cx="1595.8" cy="1555.9" rx="6.7" ry="6.0"/>
<ellipse cx="1597.7" cy="1555.9" rx="6.7" ry="6.0"/><circle cx="1595.8" cy="1534.1" r="6.0"/><ellipse cx="1612.1" cy="1555.9" rx="6.7" ry="6.0"/><ellipse cx="1618.5" cy="1555.9" rx="6.7" ry="6.0"/><circle cx="1610.9" cy="1551.5" r="6.0"/><ellipse cx="1623.1" cy="1555.9" rx="6.7" ry="6.0"/>
<ellipse cx="1637.5" cy="1555.9" rx="6.7" ry="6.0"/><circle cx="1626.1" cy="1524.4" r="6.0"/><ellipse cx="1641.2" cy="1555.9" rx="6.7" ry="6.0"/><ellipse cx="1648.7" cy="1555.9" rx="6.7" ry="6.0"/><ellipse cx="1654.3" cy="1555.9" rx="6.7" ry="6.0"/><ellipse cx="1668.7" cy="1555.9" rx="6.7" ry="6.0"/>
<circle cx="1656.3" cy="1528.3" r="6.0"/><ellipse cx="1671.4" cy="1555.9" rx="6.7" ry="6.0"/><ellipse cx="1679" cy="1555.9" rx="6.7" ry="6.0"/><circle cx="1671.4" cy="1551.9" r="6.0"/><ellipse cx="1686.5" cy="1555.9" rx="6.7" ry="6.0"/><ellipse cx="1694.1" cy="1555.9" rx="6.7" ry="6.0"/>
<ellipse cx="1701.6" cy="1555.9" rx="6.7" ry="6.0"/><ellipse cx="1709.2" cy="1555.9" rx="6.7" ry="6.0"/><circle cx="1701.6" cy="1547.5" r="6.0"/><ellipse cx="1715.6" cy="1555.9" rx="6.7" ry="6.0"/><ellipse cx="1730" cy="1555.9" rx="6.7" ry="6.0"/><circle cx="1716.7" cy="1543.8" r="6.0"/>
<ellipse cx="1731.9" cy="1555.9" rx="6.7" ry="6.0"/><ellipse cx="1739.4" cy="1555.9" rx="6.7" ry="6.0"/><ellipse cx="1744.7" cy="1555.9" rx="6.7" ry="6.0"/><ellipse cx="1759.1" cy="1555.9" rx="6.7" ry="6.0"/><circle cx="1747" cy="1550.5" r="6.0"/><ellipse cx="1762.1" cy="1555.9" rx="6.7" ry="6.0"/>
<ellipse cx="1769.6" cy="1555.9" rx="6.7" ry="6.0"/><circle cx="1762.1" cy="1549.5" r="6.0"/><ellipse cx="1777.2" cy="1555.9" rx="6.7" ry="6.0"/><ellipse cx="1784.8" cy="1555.9" rx="6.7" ry="6.0"/><ellipse cx="1790.8" cy="1555.9" rx="6.7" ry="6.0"/><ellipse cx="1805.2" cy="1555.9" rx="6.7" ry="6.0"/>
<ellipse cx="1807.4" cy="1555.9" rx="6.7" ry="6.0"/><ellipse cx="1815" cy="1555.9" rx="6.7" ry="6.0"/><circle cx="1807.4" cy="1551.5" r="6.0"/><ellipse cx="1822.5" cy="1555.9" rx="6.7" ry="6.0"/><ellipse cx="1830.1" cy="1555.9" rx="6.7" ry="6.0"/><circle cx="1822.5" cy="1550.5" r="6.0"/>
<ellipse cx="1837.7" cy="1555.9" rx="6.7" ry="6.0"/><ellipse cx="1845.2" cy="1555.9" rx="6.7" ry="6.0"/><ellipse cx="1852.8" cy="1555.9" rx="6.7" ry="6.0"/><ellipse cx="1860.3" cy="1555.9" rx="6.7" ry="6.0"/><circle cx="1852.8" cy="1532.3" r="6.0"/><ellipse cx="1867.9" cy="1555.9" rx="6.7" ry="6.0"/>
<ellipse cx="1875.5" cy="1555.9" rx="6.7" ry="6.0"/><ellipse cx="1883" cy="1555.9" rx="6.7" ry="6.0"/><ellipse cx="1890.6" cy="1555.9" rx="6.7" ry="6.0"/><circle cx="1883" cy="1545.2" r="6.0"/><ellipse cx="1898.1" cy="1555.9" rx="6.7" ry="6.0"/><ellipse cx="1905.7" cy="1555.9" rx="6.7" ry="6.0"/>
<ellipse cx="1913.2" cy="1555.9" rx="6.7" ry="6.0"/><ellipse cx="1920.8" cy="1555.9" rx="6.7" ry="6.0"/><circle cx="1913.2" cy="1527.9" r="6.0"/><ellipse cx="1928.4" cy="1555.9" rx="6.7" ry="6.0"/><ellipse cx="1935.9" cy="1555.9" rx="6.7" ry="6.0"/><ellipse cx="1943.5" cy="1555.9" rx="6.7" ry="6.0"/>
<ellipse cx="1951" cy="1555.9" rx="6.7" ry="6.0"/><circle cx="1943.5" cy="1522.6" r="6.0"/><ellipse cx="1958.6" cy="1555.9" rx="6.7" ry="6.0"/><ellipse cx="1966.1" cy="1555.9" rx="6.7" ry="6.0"/><ellipse cx="1972.4" cy="1555.9" rx="6.7" ry="6.0"/><ellipse cx="1986.8" cy="1555.9" rx="6.7" ry="6.0"/>
<circle cx="1973.7" cy="1551.5" r="6.0"/><ellipse cx="1988.8" cy="1555.9" rx="6.7" ry="6.0"/><ellipse cx="1996.4" cy="1555.9" rx="6.7" ry="6.0"/><ellipse cx="2001.2" cy="1555.9" rx="6.7" ry="6.0"/><ellipse cx="2015.6" cy="1555.9" rx="6.7" ry="6.0"/><circle cx="2003.9" cy="1527" r="6.0"/>
<ellipse cx="2019" cy="1555.9" rx="6.7" ry="6.0"/><ellipse cx="2026.6" cy="1555.9" rx="6.7" ry="6.0"/><ellipse cx="2031.2" cy="1555.9" rx="6.7" ry="6.0"/><ellipse cx="2045.6" cy="1555.9" rx="6.7" ry="6.0"/><circle cx="2034.2" cy="1542.2" r="6.0"/><ellipse cx="2049.3" cy="1555.9" rx="6.7" ry="6.0"/>
<ellipse cx="2056.8" cy="1555.9" rx="6.7" ry="6.0"/><ellipse cx="2062.1" cy="1555.9" rx="6.7" ry="6.0"/><ellipse cx="2076.5" cy="1555.9" rx="6.7" ry="6.0"/><circle cx="2064.4" cy="1546.1" r="6.0"/><ellipse cx="2079.5" cy="1555.9" rx="6.7" ry="6.0"/><ellipse cx="2087.1" cy="1555.9" rx="6.7" ry="6.0"/>
<ellipse cx="2092.1" cy="1555.9" rx="6.7" ry="6.0"/><ellipse cx="2106.5" cy="1555.9" rx="6.7" ry="6.0"/><circle cx="2094.6" cy="1543.1" r="6.0"/><ellipse cx="2109.7" cy="1555.9" rx="6.7" ry="6.0"/><ellipse cx="2117.3" cy="1555.9" rx="6.7" ry="6.0"/><ellipse cx="2124.8" cy="1555.9" rx="6.7" ry="6.0"/>
<ellipse cx="2132.4" cy="1555.9" rx="6.7" ry="6.0"/><circle cx="2124.8" cy="1552.5" r="6.0"/><ellipse cx="2140" cy="1555.9" rx="6.7" ry="6.0"/><ellipse cx="2147.5" cy="1555.9" rx="6.7" ry="6.0"/><circle cx="2140" cy="1550.7" r="6.0"/><ellipse cx="2153.6" cy="1555.9" rx="6.7" ry="6.0"/>
<ellipse cx="2168" cy="1555.9" rx="6.7" ry="6.0"/><circle cx="2155.1" cy="1550.3" r="6.0"/><ellipse cx="2170.2" cy="1555.9" rx="6.7" ry="6.0"/><ellipse cx="2177.7" cy="1555.9" rx="6.7" ry="6.0"/><ellipse cx="2185.3" cy="1555.9" rx="6.7" ry="6.0"/><ellipse cx="2199.7" cy="1555.9" rx="6.7" ry="6.0"/>
<circle cx="2185.3" cy="1554.3" r="6.0"/><ellipse cx="2200.4" cy="1555.9" rx="6.7" ry="6.0"/>
</g>
</g>
<g id="labels1" class="t">
<text transform="translate(283.2 55.6) scale(1.000 1.015)" text-anchor="end">0.09</text>
<text transform="translate(283.2 183.2) scale(1.000 1.015)" text-anchor="end">0.06</text>
<text transform="translate(283.2 310.9) scale(1.000 1.015)" text-anchor="end">0.03</text>

<text transform="translate(283.2 487.8) scale(1.000 1.015)" text-anchor="end">0</text>
<text transform="translate(500 487.8) scale(1.000 1.015)" text-anchor="middle">0.5</text>
<text transform="translate(688.94 487.8) scale(1.000 1.015)" text-anchor="middle">1.0</text>
<text transform="translate(877.88 487.8) scale(1.000 1.015)" text-anchor="middle">1.5</text>
<text transform="translate(1066.81 487.8) scale(1.000 1.015)" text-anchor="middle">2.0</text>
<text transform="translate(1255.74 487.8) scale(1.000 1.015)" text-anchor="middle">2.5</text>
<text transform="translate(1444.68 487.8) scale(1.000 1.015)" text-anchor="middle">3.0</text>
<text transform="translate(1633.62 487.8) scale(1.000 1.015)" text-anchor="middle">3.5</text>
<text transform="translate(1822.55 487.8) scale(1.000 1.015)" text-anchor="middle">4.0</text>
<text transform="translate(2011.48 487.8) scale(1.000 1.015)" text-anchor="middle">4.5</text>
<text transform="translate(2200.42 487.8) scale(1.000 1.015)" text-anchor="middle">5.0</text>

<text class="it" transform="translate(1902.6 113) scale(1.050 0.965)">k</text>
<text transform="translate(1934.8 122.8) scale(0.850 1.000)" font-size="44.7">1</text>
<text class="it" transform="translate(1954 113) scale(1.050 0.965)">d</text>
<text transform="translate(2027.8 119.7) scale(1.420 1.015)" text-anchor="middle">=</text>
<text transform="translate(2066 113) scale(1.000 1.015)">4.5</text>

<g transform="translate(100.6 332) rotate(-90)" font-size="80"><text transform="translate(-8 -2) scale(1.000 0.923)">|</text>
<text stroke="#000" stroke-width="0.8" class="it" transform="translate(12.3 0) scale(1.000 0.980)">C</text>
<text class="it" x="68.4" y="-33.6" font-size="54">η</text>
<text class="it" x="70.1" y="15" font-size="54">i</text>
<text x="85.4" y="15" font-size="54">,</text>
<text class="it" x="104.4" y="15" font-size="54">j</text>
<text stroke="#000" stroke-width="0.6" class="it" transform="translate(120 0) scale(1.005 0.965)">k</text>
<text class="it" x="157.6" y="15" font-size="54">i</text>
<text x="172.9" y="15" font-size="54">,</text>
<text class="it" x="191.9" y="15" font-size="54">j</text>
<text transform="translate(207 -2) scale(1.000 0.923)">|</text>
</g>
</g>
<g id="labels2" class="t">
<text transform="translate(283.2 625.8) scale(1.000 1.015)" text-anchor="end">0.09</text>
<text transform="translate(283.2 753.4) scale(1.000 1.015)" text-anchor="end">0.06</text>
<text transform="translate(283.2 881.1) scale(1.000 1.015)" text-anchor="end">0.03</text>

<text transform="translate(283.2 1058) scale(1.000 1.015)" text-anchor="end">0</text>
<text transform="translate(500 1058) scale(1.000 1.015)" text-anchor="middle">0.5</text>
<text transform="translate(688.94 1058) scale(1.000 1.015)" text-anchor="middle">1.0</text>
<text transform="translate(877.88 1058) scale(1.000 1.015)" text-anchor="middle">1.5</text>
<text transform="translate(1066.81 1058) scale(1.000 1.015)" text-anchor="middle">2.0</text>
<text transform="translate(1255.74 1058) scale(1.000 1.015)" text-anchor="middle">2.5</text>
<text transform="translate(1444.68 1058) scale(1.000 1.015)" text-anchor="middle">3.0</text>
<text transform="translate(1633.62 1058) scale(1.000 1.015)" text-anchor="middle">3.5</text>
<text transform="translate(1822.55 1058) scale(1.000 1.015)" text-anchor="middle">4.0</text>
<text transform="translate(2011.48 1058) scale(1.000 1.015)" text-anchor="middle">4.5</text>
<text transform="translate(2200.42 1058) scale(1.000 1.015)" text-anchor="middle">5.0</text>

<text class="it" transform="translate(1902.6 683.2) scale(1.050 0.965)">k</text>
<text transform="translate(1934.8 693) scale(0.850 1.000)" font-size="44.7">1</text>
<text class="it" transform="translate(1954 683.2) scale(1.050 0.965)">d</text>
<text transform="translate(2027.8 689.9) scale(1.420 1.015)" text-anchor="middle">=</text>
<text transform="translate(2066 683.2) scale(1.000 1.015)">1.5</text>

<g transform="translate(100.6 902.2) rotate(-90)" font-size="80"><text transform="translate(-8 -2) scale(1.000 0.923)">|</text>
<text stroke="#000" stroke-width="0.8" class="it" transform="translate(12.3 0) scale(1.000 0.980)">C</text>
<text class="it" x="68.4" y="-33.6" font-size="54">η</text>
<text class="it" x="70.1" y="15" font-size="54">i</text>
<text x="85.4" y="15" font-size="54">,</text>
<text class="it" x="104.4" y="15" font-size="54">j</text>
<text stroke="#000" stroke-width="0.6" class="it" transform="translate(120 0) scale(1.005 0.965)">k</text>
<text class="it" x="157.6" y="15" font-size="54">i</text>
<text x="172.9" y="15" font-size="54">,</text>
<text class="it" x="191.9" y="15" font-size="54">j</text>
<text transform="translate(207 -2) scale(1.000 0.923)">|</text>
</g>
</g>
<g id="labels3" class="t">
<text transform="translate(283.2 1195.6) scale(1.000 1.015)" text-anchor="end">0.09</text>
<text transform="translate(283.2 1323.2) scale(1.000 1.015)" text-anchor="end">0.06</text>
<text transform="translate(283.2 1450.9) scale(1.000 1.015)" text-anchor="end">0.03</text>

<text transform="translate(283.2 1627.8) scale(1.000 1.015)" text-anchor="end">0</text>
<text transform="translate(500 1627.8) scale(1.000 1.015)" text-anchor="middle">0.5</text>
<text transform="translate(688.94 1627.8) scale(1.000 1.015)" text-anchor="middle">1.0</text>
<text transform="translate(877.88 1627.8) scale(1.000 1.015)" text-anchor="middle">1.5</text>
<text transform="translate(1066.81 1627.8) scale(1.000 1.015)" text-anchor="middle">2.0</text>
<text transform="translate(1255.74 1627.8) scale(1.000 1.015)" text-anchor="middle">2.5</text>
<text transform="translate(1444.68 1627.8) scale(1.000 1.015)" text-anchor="middle">3.0</text>
<text transform="translate(1633.62 1627.8) scale(1.000 1.015)" text-anchor="middle">3.5</text>
<text transform="translate(1822.55 1627.8) scale(1.000 1.015)" text-anchor="middle">4.0</text>
<text transform="translate(2011.48 1627.8) scale(1.000 1.015)" text-anchor="middle">4.5</text>
<text transform="translate(2200.42 1627.8) scale(1.000 1.015)" text-anchor="middle">5.0</text>

<text class="it" transform="translate(1902.6 1253) scale(1.050 0.965)">k</text>
<text transform="translate(1934.8 1262.8) scale(0.850 1.000)" font-size="44.7">1</text>
<text class="it" transform="translate(1954 1253) scale(1.050 0.965)">d</text>
<text transform="translate(2027.8 1259.7) scale(1.420 1.015)" text-anchor="middle">=</text>
<text transform="translate(2066 1253) scale(1.000 1.015)">0.9</text>

<g transform="translate(100.6 1472) rotate(-90)" font-size="80"><text transform="translate(-8 -2) scale(1.000 0.923)">|</text>
<text stroke="#000" stroke-width="0.8" class="it" transform="translate(12.3 0) scale(1.000 0.980)">C</text>
<text class="it" x="68.4" y="-33.6" font-size="54">η</text>
<text class="it" x="70.1" y="15" font-size="54">i</text>
<text x="85.4" y="15" font-size="54">,</text>
<text class="it" x="104.4" y="15" font-size="54">j</text>
<text stroke="#000" stroke-width="0.6" class="it" transform="translate(120 0) scale(1.005 0.965)">k</text>
<text class="it" x="157.6" y="15" font-size="54">i</text>
<text x="172.9" y="15" font-size="54">,</text>
<text class="it" x="191.9" y="15" font-size="54">j</text>
<text transform="translate(207 -2) scale(1.000 0.923)">|</text>
</g>
</g>
<g id="xlabel" font-size="80"><text class="it" transform="translate(1181 1732) scale(1.070 0.950)">σ</text>
<text x="1227.8" y="1747.7" font-size="103.3">/</text>
<text class="it" transform="translate(1260 1732) scale(1.070 0.950)">σ</text>
<text transform="translate(1305.5 1744) scale(0.820 1.000)" font-size="52.5">1</text>
</g>
</svg>
</body>
</html>
